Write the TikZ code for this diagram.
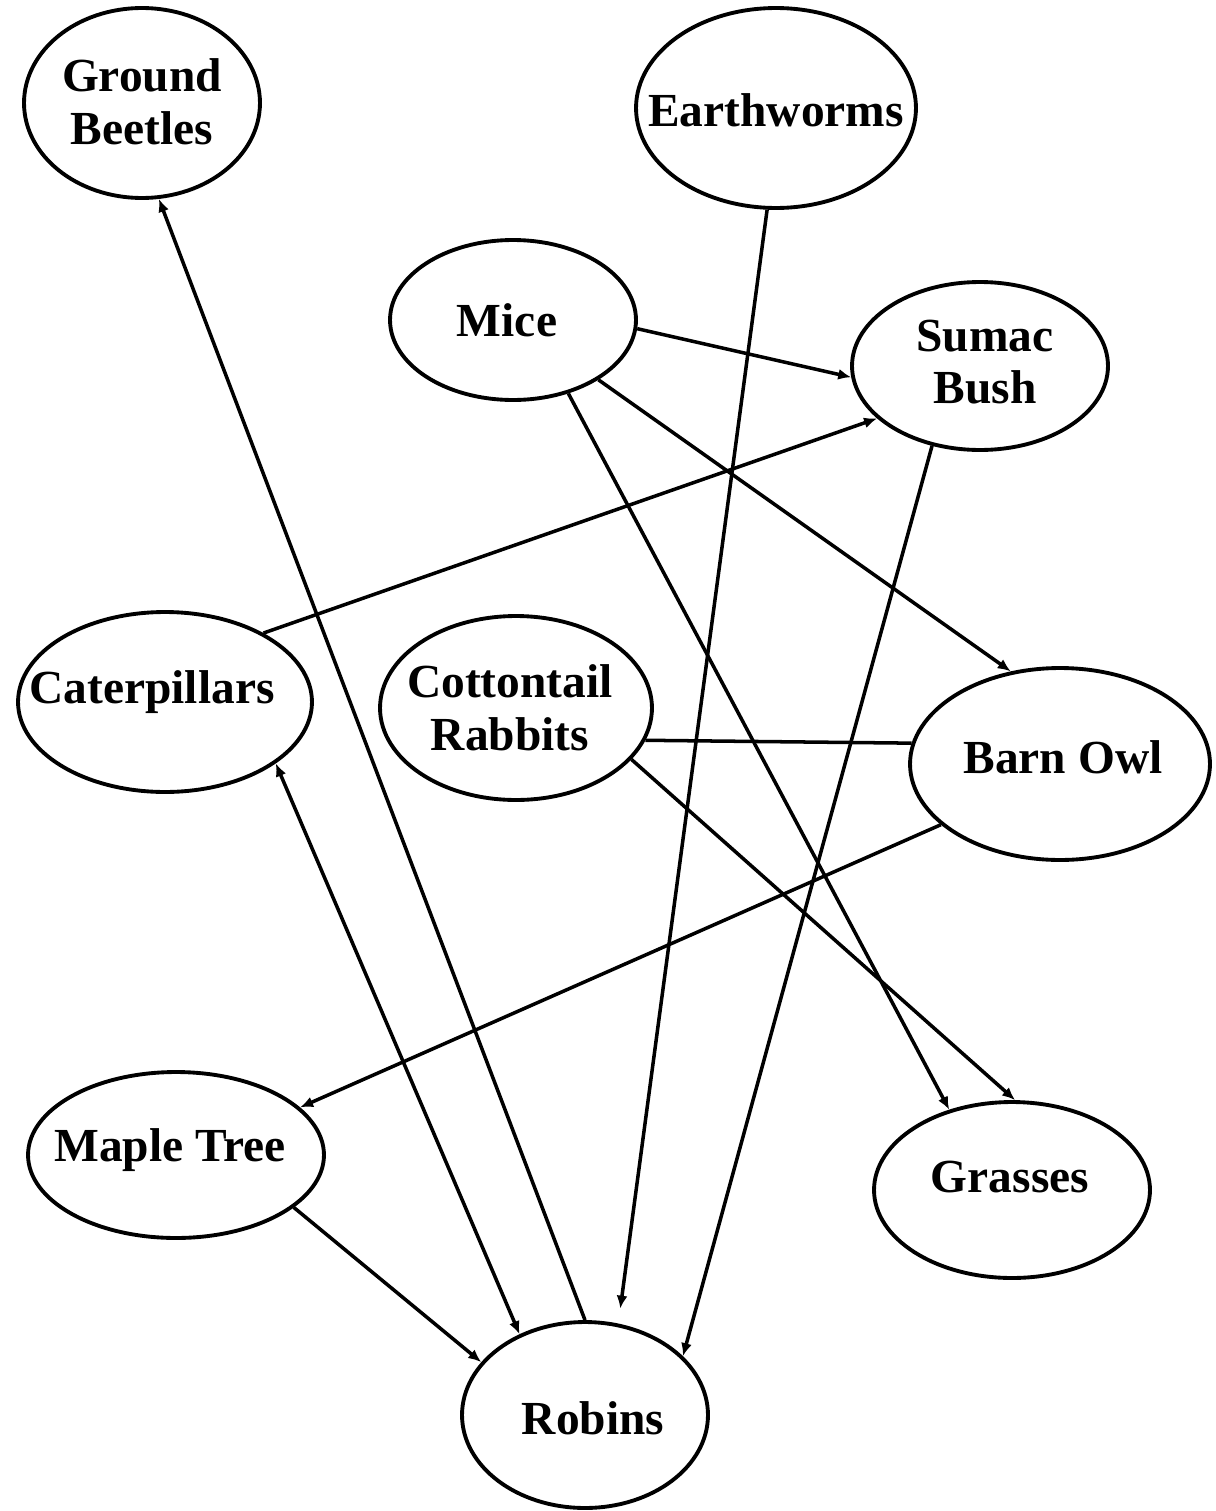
\documentclass[tikz,border=0pt]{standalone}
\usepackage{fontspec}
\setmainfont{Liberation Serif}
\usetikzlibrary{shapes.geometric,arrows.meta}
\tikzset{
  eco/.style={ellipse, draw, line width=2.2pt, inner sep=0pt},
  lbl/.style={font=\fontsize{27}{30}\selectfont\bfseries, align=center, inner sep=0pt},
  tip/.style={-{Latex[length=2.6mm,width=2.2mm]}},
  link/.style={line width=2pt, tip},
  plain/.style={line width=2pt}
}
\begin{document}
\begin{tikzpicture}[x=0.02cm,y=-0.02cm]
\useasboundingbox (0,0) rectangle (1215,1511);
% ellipses
\node[eco, minimum width=4.72cm, minimum height=3.80cm] (gb) at (142,103) {};
\node[eco, minimum width=5.60cm, minimum height=4.00cm] (ew) at (776,108) {};
\node[eco, minimum width=4.92cm, minimum height=3.20cm] (mice) at (513,320) {};
\node[eco, minimum width=5.12cm, minimum height=3.36cm] (sumac) at (980,366) {};
\node[eco, minimum width=5.88cm, minimum height=3.60cm] (cat) at (165,702) {};
\node[eco, minimum width=5.44cm, minimum height=3.68cm] (cot) at (516,708) {};
\node[eco, minimum width=6.00cm, minimum height=3.84cm] (owl) at (1060,764) {};
\node[eco, minimum width=5.92cm, minimum height=3.32cm] (maple) at (176,1155) {};
\node[eco, minimum width=5.52cm, minimum height=3.52cm] (grass) at (1012,1190) {};
\node[eco, minimum width=4.92cm, minimum height=3.72cm] (rob) at (585,1415) {};
% labels
\node[lbl] (gbt) at (142,102) {Ground\\Beetles};
\node[lbl] (ewt) at (776,110) {Earthworms};
\node[lbl] (micet) at (507,320) {Mice};
\node[lbl] (sumact) at (985,362) {Sumac\\Bush};
\node[lbl] (catt) at (152,692) {Caterpillars};
\node[lbl] (cott) at (510,708) {Cottontail\\Rabbits};
\node[lbl] (owlt) at (1063,757) {Barn Owl};
\node[lbl] (maplet) at (170,1150) {Maple Tree};
\node[lbl] (grasst) at (1010,1177) {Grasses};
\node[lbl] (robt) at (593,1418) {Robins};
% connectors
\draw[link] (rob.90) -- (gb.280.7);
\draw[link, shorten >=0.3cm] (ew.265.4) -- (rob.70.4);
\draw[link] (sumac.239.8) -- (rob.31.5);
\draw[line width=2pt, {Latex[length=2.6mm,width=2.2mm]}-{Latex[length=2.6mm,width=2.2mm]}] (cat.331.4) -- (rob.129.3);
\draw[link] (maple.336.4) -- (rob.153.9);
\draw[link] (mice.356.3) -- (sumac.185.5);
\draw[link] (cat.35.5) -- (sumac.207);
\draw[link] (mice.325.6) -- (owl.118.5);
\draw[link] (mice.307.4) -- (grass.128.9);
\draw[plain] (cot.346.6) -- (owl.172.4);
\draw[link] (cot.336.1) -- (grass.88);
\draw[link] (owl.207.1) -- (maple.21.5);
\end{tikzpicture}
\end{document}
